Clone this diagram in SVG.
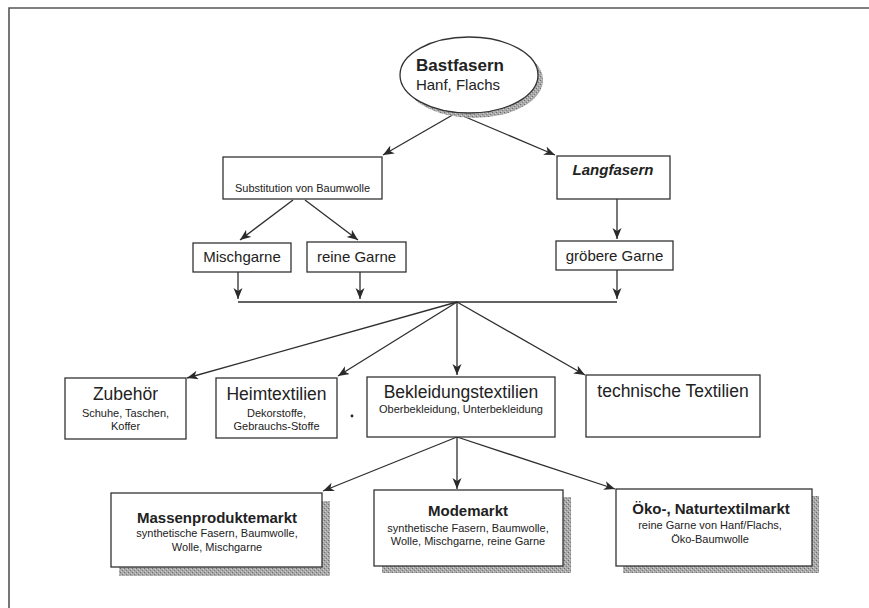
<svg xmlns="http://www.w3.org/2000/svg" width="869" height="608" viewBox="0 0 869 608">
<defs>
<marker id="ah" markerUnits="userSpaceOnUse" markerWidth="12" markerHeight="10" refX="11" refY="4.5" orient="auto">
<path d="M0,0 L11,4.5 L0,9 L3,4.5 Z" fill="#2a2a2a"/>
</marker>
<pattern id="stip" width="4" height="4" patternUnits="userSpaceOnUse">
<rect width="4" height="4" fill="#a9a9a9"/>
<rect x="0" y="0" width="1" height="1" fill="#6e6e6e"/>
<rect x="2" y="2" width="1" height="1" fill="#7a7a7a"/>
<rect x="3" y="1" width="1" height="1" fill="#d0d0d0"/>
<rect x="1" y="3" width="1" height="1" fill="#cfcfcf"/>
</pattern>
</defs>
<style>
.box{fill:#fff;stroke:#333;stroke-width:1.3}
.sh{fill:url(#stip)}
.ln{fill:none;stroke:#2e2e2e;stroke-width:1.3}
.ar{fill:none;stroke:#2e2e2e;stroke-width:1.3;marker-end:url(#ah)}
text{font-family:"Liberation Sans",Arial,sans-serif;fill:#222;text-anchor:middle}
.s{font-size:11px}
.m{font-size:15px}
.l{font-size:17.5px}
.b{font-size:15px;font-weight:bold}
</style>
<rect width="869" height="608" fill="#fff"/>
<path d="M9,608 L9,8 L869,8" fill="none" stroke="#555" stroke-width="1.6"/>

<g id="connectors">
<path class="ar" d="M456,113 L383,155"/>
<path class="ar" d="M456,113 L555,155"/>
<path class="ar" d="M293,200 L240,240"/>
<path class="ar" d="M305,200 L358,240"/>
<path class="ar" d="M617,199 L617,239"/>
<path class="ar" d="M238,272 L238,299"/>
<path class="ar" d="M360,272 L360,299"/>
<path class="ar" d="M617,270 L617,299"/>
<path class="ln" d="M238,302 L617,302"/>
<path class="ar" d="M457,302 L187,378"/>
<path class="ar" d="M457,302 L338,376"/>
<path class="ar" d="M457,302 L457,375"/>
<path class="ar" d="M457,302 L585,375"/>
<path class="ar" d="M457,437 L323,491"/>
<path class="ar" d="M457,437 L457,489"/>
<path class="ar" d="M457,437 L615,489"/>
</g>

<g id="bastfasern">
<ellipse cx="474" cy="80" rx="69" ry="38" class="sh"/>
<ellipse cx="469" cy="75" rx="69" ry="38" class="box"/>
<text x="460" y="71" style="font-size:17px;font-weight:bold">Bastfasern</text>
<text x="458" y="90" class="m">Hanf, Flachs</text>
</g>

<g id="substitution">
<rect x="223" y="157" width="159" height="42" class="box"/>
<text x="302.5" y="192" class="s">Substitution von Baumwolle</text>
</g>

<g id="langfasern">
<rect x="557" y="156" width="113" height="43" class="box"/>
<text x="613" y="175" style="font-size:15px;font-weight:bold;font-style:italic">Langfasern</text>
</g>

<g id="mischgarne">
<rect x="193" y="243" width="98" height="29" class="box"/>
<text x="242" y="262" class="m">Mischgarne</text>
</g>

<g id="reine-garne">
<rect x="307" y="242" width="99" height="30" class="box"/>
<text x="356.5" y="262" class="m">reine Garne</text>
</g>

<g id="groebere-garne">
<rect x="556" y="241" width="117" height="29" class="box"/>
<text x="614.5" y="261" class="m">gröbere Garne</text>
</g>

<g id="zubehoer">
<rect x="65" y="378" width="121" height="61" class="box"/>
<text x="125.5" y="400" class="l">Zubehör</text>
<text x="125.5" y="417" class="s">Schuhe, Taschen,</text>
<text x="125.5" y="430" class="s">Koffer</text>
</g>

<g id="heimtextilien">
<rect x="216" y="378" width="121" height="60" class="box"/>
<text x="276.5" y="400" class="l">Heimtextilien</text>
<text x="276.5" y="417" class="s">Dekorstoffe,</text>
<text x="276.5" y="430" class="s">Gebrauchs-Stoffe</text>
</g>

<circle cx="352" cy="416" r="1.4" fill="#222"/>

<g id="bekleidungstextilien">
<rect x="367" y="377" width="188" height="60" class="box"/>
<text x="461" y="398" class="l">Bekleidungstextilien</text>
<text x="461" y="413" class="s">Oberbekleidung, Unterbekleidung</text>
</g>

<g id="technische-textilien">
<rect x="586" y="375" width="174" height="62" class="box"/>
<text x="673" y="397" class="l">technische Textilien</text>
</g>

<g id="massenproduktemarkt">
<rect x="119" y="501" width="211" height="75" class="sh"/>
<rect x="111" y="493" width="211" height="74" class="box"/>
<text x="217" y="523" class="b">Massenproduktemarkt</text>
<text x="217" y="537" class="s">synthetische Fasern, Baumwolle,</text>
<text x="217" y="551" class="s">Wolle, Mischgarne</text>
</g>

<g id="modemarkt">
<rect x="382" y="497" width="189" height="76" class="sh"/>
<rect x="374" y="490" width="189" height="76" class="box"/>
<text x="468" y="516" class="b">Modemarkt</text>
<text x="468" y="532" class="s">synthetische Fasern, Baumwolle,</text>
<text x="468" y="545" class="s">Wolle, Mischgarne, reine Garne</text>
</g>

<g id="oeko-naturtextilmarkt">
<rect x="623" y="496" width="196" height="77" class="sh"/>
<rect x="616" y="489" width="196" height="77" class="box"/>
<text x="711" y="514" class="b">Öko-, Naturtextilmarkt</text>
<text x="710" y="529" class="s">reine Garne von Hanf/Flachs,</text>
<text x="710" y="543" class="s">Öko-Baumwolle</text>
</g>
</svg>
